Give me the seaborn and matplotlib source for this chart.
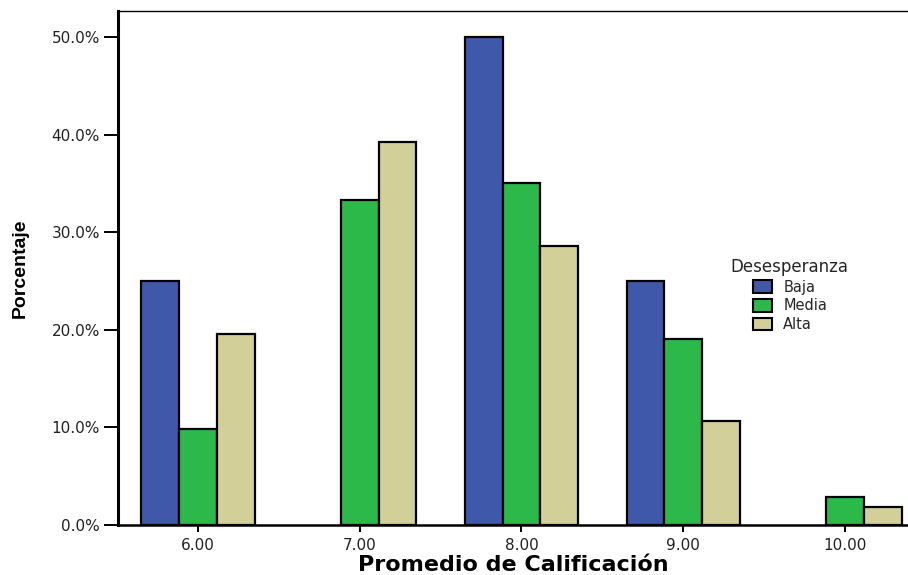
import pandas as pd
import numpy as np
import seaborn as sns
import matplotlib.pyplot as plt
from matplotlib.ticker import FuncFormatter

# promedio de calificacion (x categories) and porcentaje per level of desesperanza
categorias = ['6.00', '7.00', '8.00', '9.00', '10.00']
niveles = ['Baja', 'Media', 'Alta']
baja = [25.0, 0.0, 50.0, 25.0, 0.0]
media = [9.8, 33.3, 35.0, 19.1, 2.9]
alta = [19.6, 39.2, 28.6, 10.7, 1.8]

colores = {'Baja': '#3f58aa', 'Media': '#2db84a', 'Alta': '#d3cf98'}

df = pd.DataFrame({
	'Promedio': categorias * 3,
	'Desesperanza': ['Baja'] * 5 + ['Media'] * 5 + ['Alta'] * 5,
	'Porcentaje': baja + media + alta,
})

sns.set_style('white')
plt.rcParams['font.family'] = ['DejaVu Sans']

fig = plt.figure(figsize=(9.08, 5.75), dpi=100)
# axes box in pixels: x 118..908, y 11..525
ax = fig.add_axes([118 / 908, 50 / 575, (908 - 118) / 908, (525 - 11) / 575])

sns.barplot(data=df, x='Promedio', y='Porcentaje', hue='Desesperanza',
			order=categorias, hue_order=niveles, palette=colores,
			width=0.7, edgecolor='black', linewidth=1.6, saturation=1, ax=ax)

# empty categories draw no outline (only the bars, not the legend proxies)
for cont in ax.containers:
	for p in cont:
		if p.get_height() == 0:
			p.set_visible(False)

ax.set_xlim(-0.495, 4.39)
ax.set_ylim(0, 52.66)
ax.set_yticks([0, 10, 20, 30, 40, 50])
ax.yaxis.set_major_formatter(FuncFormatter(lambda v, p: '{:.1f}%'.format(v)))

ax.spines['right'].set_visible(False)
ax.spines['top'].set_color('black')
ax.spines['top'].set_linewidth(1.0)
ax.spines['left'].set_color('black')
ax.spines['left'].set_linewidth(2.2)
ax.spines['bottom'].set_color('black')
ax.spines['bottom'].set_linewidth(1.8)

ax.tick_params(axis='y', direction='out', length=10, width=1.4, color='black',
			   labelsize=11, labelcolor='#222222', left=True, pad=3)
ax.tick_params(axis='x', direction='out', length=5, width=1.4, color='black',
			   labelsize=11, labelcolor='#222222', bottom=True, pad=4)

ax.set_xlabel('Promedio de Calificación', fontsize=16, fontweight='bold', color='black', labelpad=2)
ax.set_ylabel('Porcentaje', fontsize=14, fontweight='bold', color='black',
			  family=['Liberation Sans', 'DejaVu Sans'])
ax.yaxis.set_label_coords((29 - 118) / 790, 0.5)

leg = ax.legend(title='Desesperanza', loc='upper left', bbox_to_anchor=(0.772, 0.525),
				frameon=False, fontsize=10.5, title_fontsize=12, borderaxespad=0, borderpad=0.2,
				handlelength=1.35, handleheight=0.95, handletextpad=0.75, labelspacing=0.25)
for h in leg.legend_handles:
	h.set_visible(True)
	h.set_edgecolor('black')
	h.set_linewidth(1.5)

fig.savefig('out.png', dpi=100)
